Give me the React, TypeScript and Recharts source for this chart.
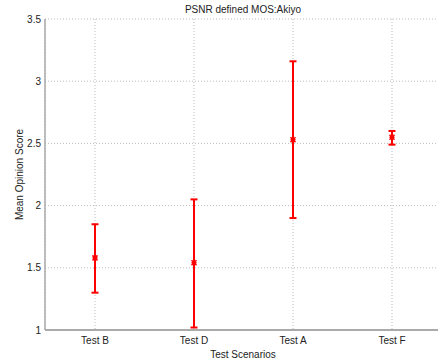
import { ComposedChart, Scatter, ErrorBar, XAxis, YAxis, CartesianGrid } from "recharts";

const categories = ["Test B", "Test D", "Test A", "Test F"];
const means = [1.58, 1.54, 2.53, 2.55];
const lows = [1.3, 1.02, 1.9, 2.49];
const highs = [1.85, 2.05, 3.16, 2.6];
const yTicks = [1, 1.5, 2, 2.5, 3, 3.5];

const data = categories.map((name, i) => ({
  name,
  mean: means[i],
  err: [means[i] - lows[i], highs[i] - means[i]],
}));

const font = "'Liberation Sans', Arial, sans-serif";

const MeanMarker = (props: any) => {
  const { cx, cy } = props;
  if (cx == null || cy == null) return null;
  const s = 2.5;
  return (
    <path
      d={`M${cx - s},${cy - s}L${cx + s},${cy + s}M${cx - s},${cy + s}L${cx + s},${cy - s}M${cx - s},${cy}L${cx + s},${cy}`}
      stroke="#ff0000"
      strokeWidth={1.5}
      fill="none"
    />
  );
};

export default function App() {
  return (
    <div style={{ position: "absolute", left: 0, top: 0, width: 438, height: 362, overflow: "hidden", background: "#fff" }}>
      <ComposedChart width={446} height={362} data={data} margin={{ top: 19, right: 5, left: 0, bottom: 0 }}>
        <CartesianGrid stroke="#bbb" strokeDasharray="1 2" />
        <XAxis
          dataKey="name"
          height={32}
          padding={{ left: 50, right: 49 }}
          tickLine={false}
          tickMargin={1}
          axisLine={{ stroke: "#aaa", strokeWidth: 2 }}
          tick={{ fontSize: 10, fill: "#222", fontFamily: font }}
          label={{ value: "Test Scenarios", position: "insideBottom", offset: 4, fontSize: 10, fill: "#222", fontFamily: font }}
        />
        <YAxis
          width={45}
          domain={[1, 3.5]}
          ticks={yTicks}
          tickLine={false}
          tickSize={3}
          tickMargin={1}
          axisLine={{ stroke: "#aaa", strokeWidth: 1.5 }}
          tick={{ fontSize: 10, fill: "#222", fontFamily: font }}
          label={{ value: "Mean Opinion Score", angle: -90, position: "insideLeft", offset: 19, style: { textAnchor: "middle" }, fontSize: 10, fill: "#222", fontFamily: font }}
        />
        <Scatter dataKey="mean" shape={<MeanMarker />} isAnimationActive={false}>
          <ErrorBar dataKey="err" direction="y" width={3.5} stroke="#ff0000" strokeWidth={2} />
        </Scatter>
        <text x={243} y={13} textAnchor="middle" fontSize={10} fill="#222" fontFamily={font}>
          PSNR defined MOS:Akiyo
        </text>
      </ComposedChart>
    </div>
  );
}
